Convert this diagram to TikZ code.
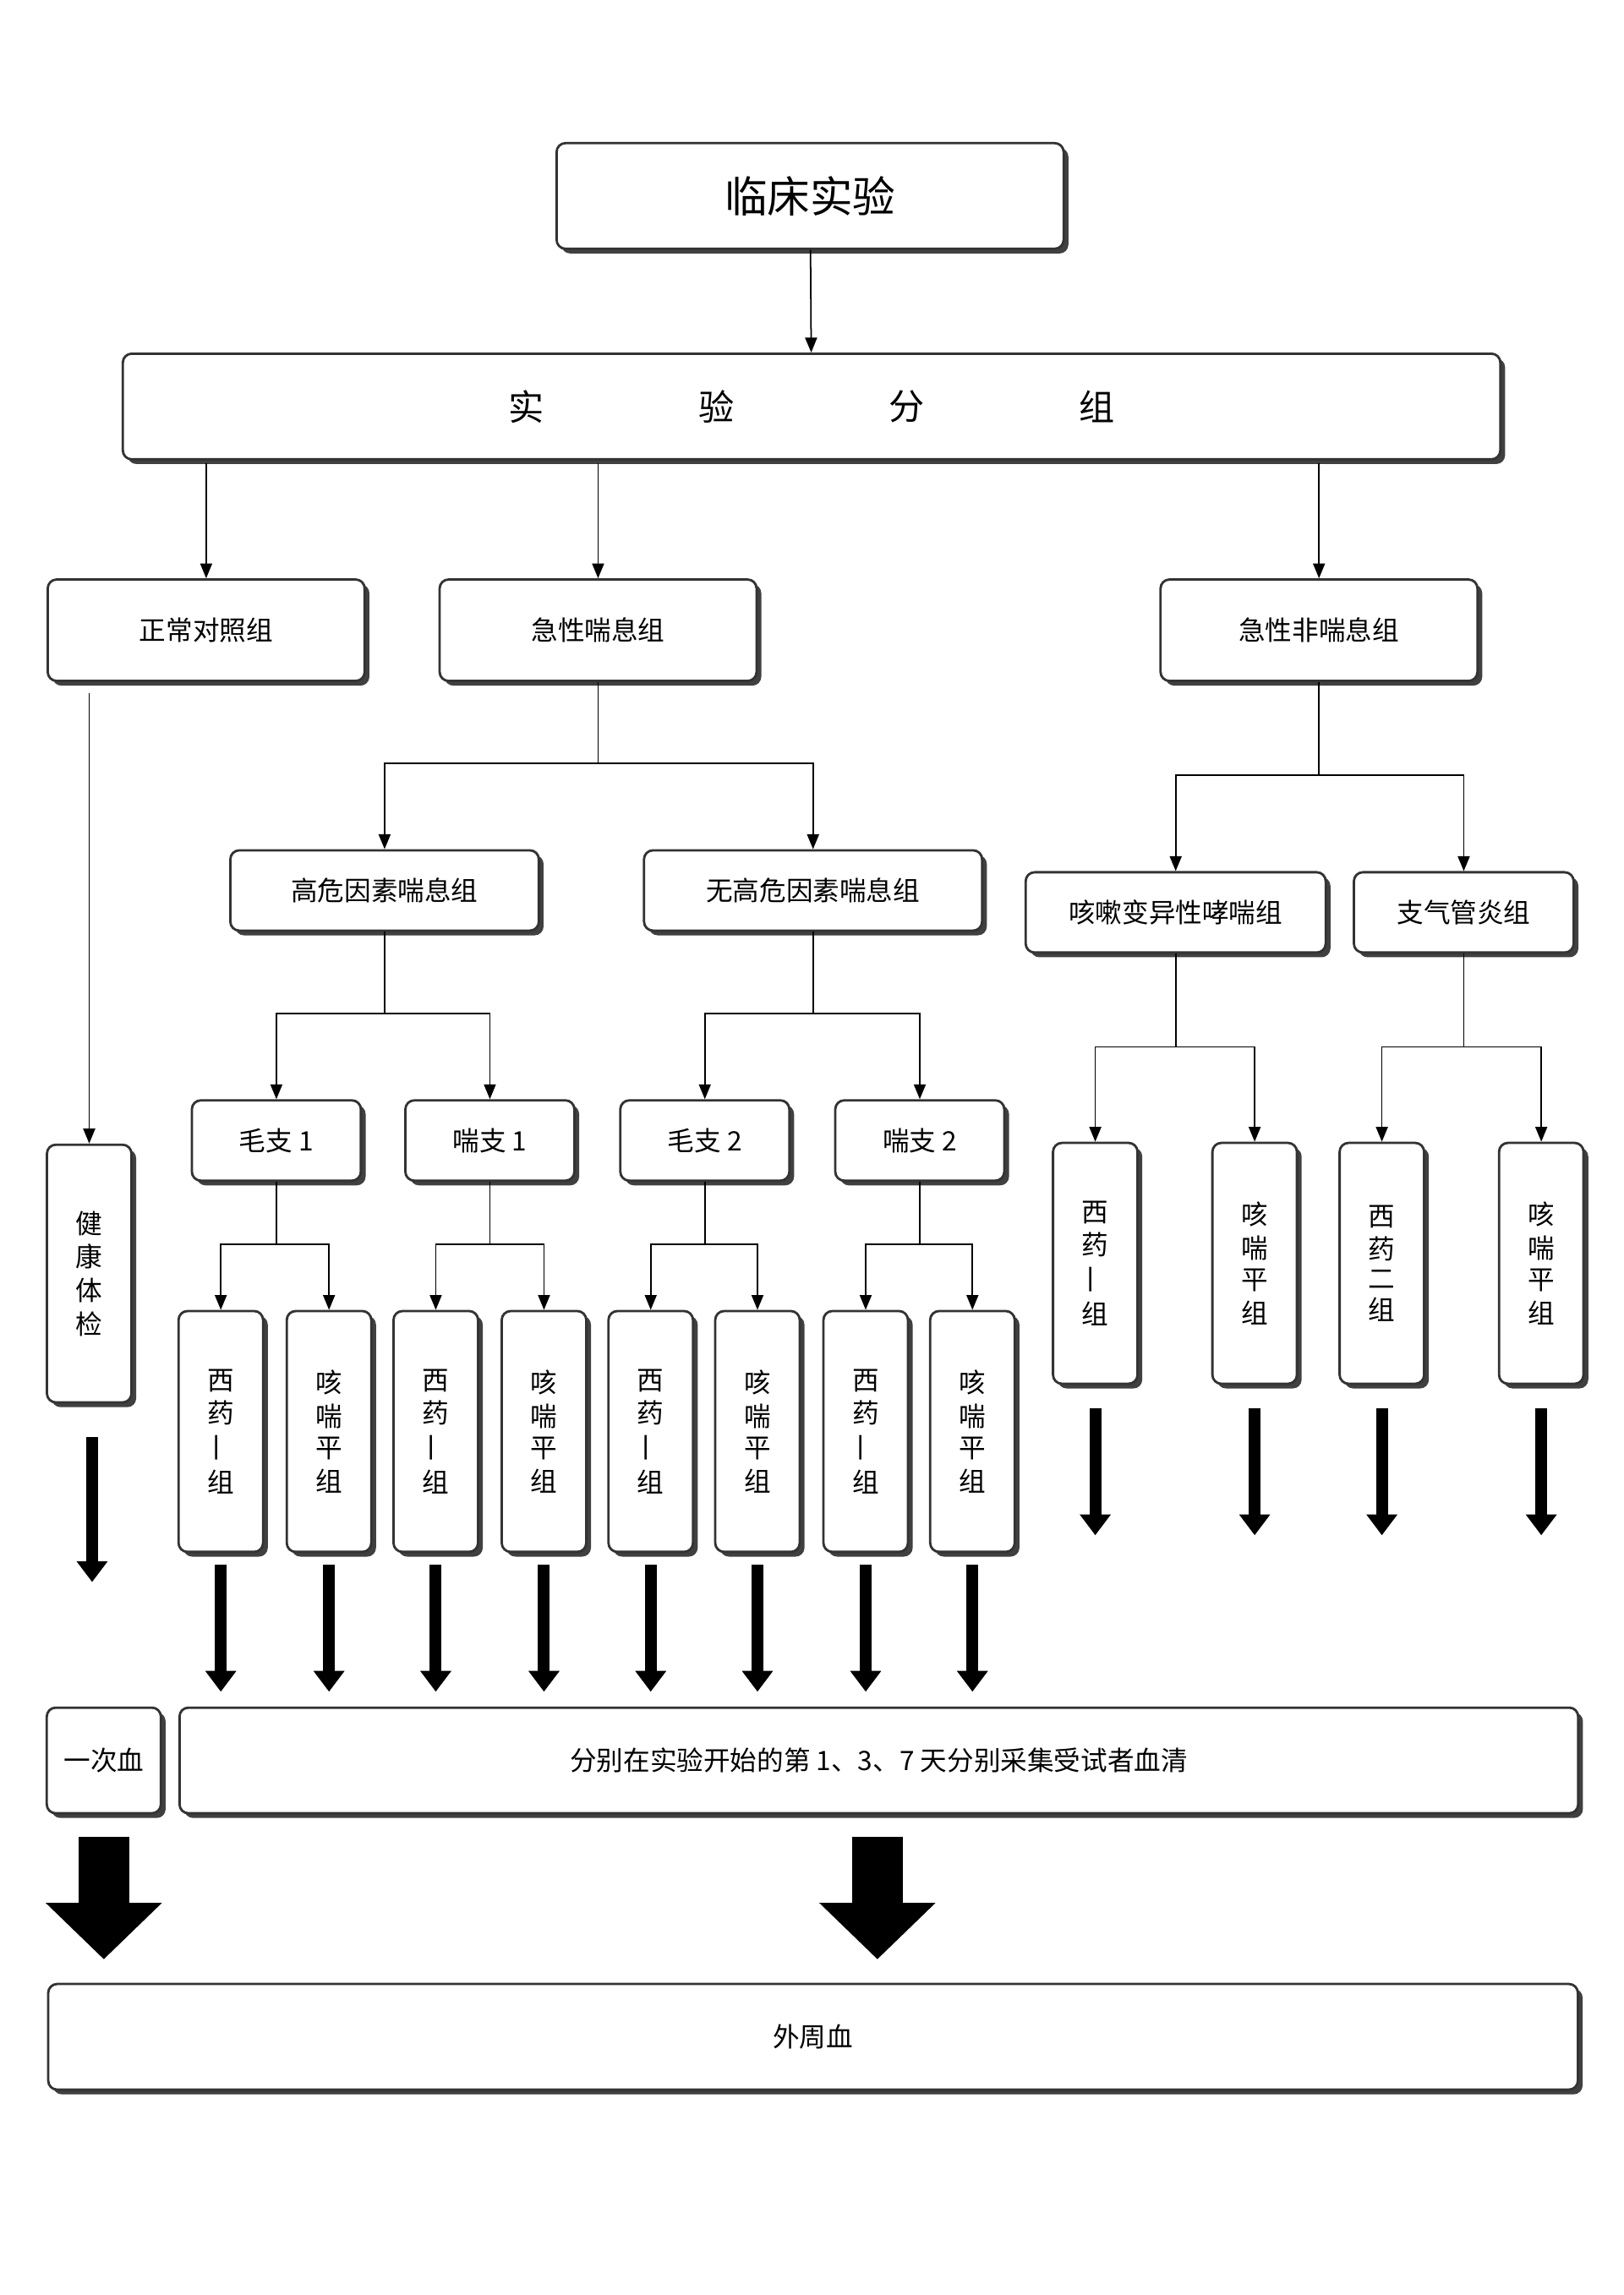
\documentclass[tikz,border=0pt]{standalone}
\usepackage{fontspec}
\setmainfont{Noto Sans CJK SC}
\usetikzlibrary{arrows.meta,shadows}
\newcommand{\vtext}[4]{\shortstack{#1\\#2\\#3\\#4}}
\newcommand{\yi}{\rotatebox{90}{一}}
\begin{document}
\begin{tikzpicture}[x=0.017297cm, y=-0.017297cm,
box/.style = {rectangle, draw=black!80, line width=0.8pt, rounded corners=3pt, fill=white, align=center, font=\small,
  drop shadow={shadow xshift=1.6pt, shadow yshift=-1.6pt, fill=black!75, opacity=1}},
line/.style = {line width=0.5pt},
arr/.style = {-{Triangle[length=5pt,width=4pt]}, line width=0.5pt},
fat/.style = {-{Triangle[length=7pt,width=10pt]}, line width=4pt},
huge/.style = {-{Triangle[length=19pt,width=38pt]}, line width=17pt}]
\useasboundingbox (0,0) rectangle (1110,1569.6);
% top
\node[box, minimum width=6cm, minimum height=1.25cm, font=\Large] at (554,134) (clin) {临床实验};
\node[box, minimum width=16.3cm, minimum height=1.25cm, font=\large] at (555,278) (grp) {};
\foreach \c/\x in {实/360, 验/490, 分/620, 组/750}
  \node[font=\large] at (\x,278) {\c};
\draw[arr] (clin) -- (grp);
% second row
\node[box, minimum width=3.75cm, minimum height=1.2cm] at (141,431) (norm) {正常对照组};
\node[box, minimum width=3.75cm, minimum height=1.2cm] at (409,431) (asth) {急性喘息组};
\node[box, minimum width=3.75cm, minimum height=1.2cm] at (902,431) (nonasth) {急性非喘息组};
\foreach \n/\x in {norm/141, asth/409, nonasth/902}
  \draw[arr] (\x,317) -- (\n.north);
% third row
\node[box, minimum width=3.65cm, minimum height=0.95cm] at (263,609) (high) {高危因素喘息组};
\node[box, minimum width=4cm, minimum height=0.95cm] at (556,609) (nohigh) {无高危因素喘息组};
\node[box, minimum width=3.55cm, minimum height=0.95cm] at (804,624) (cough) {咳嗽变异性哮喘组};
\node[box, minimum width=2.6cm, minimum height=0.95cm] at (1001,624) (bron) {支气管炎组};
\draw[line] (asth.south) -- (409,522) coordinate (j1);
\draw[arr] (j1) -| (high.north);
\draw[arr] (j1) -| (nohigh.north);
\draw[line] (nonasth.south) -- (902,530) coordinate (j2);
\draw[arr] (j2) -| (cough.north);
\draw[arr] (j2) -| (bron.north);
% fourth row
\node[box, minimum width=2cm, minimum height=0.95cm] at (189,780) (mz1) {毛支 1};
\node[box, minimum width=2cm, minimum height=0.95cm] at (335,780) (cz1) {喘支 1};
\node[box, minimum width=2cm, minimum height=0.95cm] at (482,780) (mz2) {毛支 2};
\node[box, minimum width=2cm, minimum height=0.95cm] at (629,780) (cz2) {喘支 2};
\draw[line] (high.south) -- (263,693) coordinate (j3);
\draw[arr] (j3) -| (mz1.north);
\draw[arr] (j3) -| (cz1.north);
\draw[line] (nohigh.south) -- (556,693) coordinate (j4);
\draw[arr] (j4) -| (mz2.north);
\draw[arr] (j4) -| (cz2.north);
% vertical boxes
\foreach \i/\x/\p in {1/151/mz1, 2/225/mz1, 3/298/cz1, 4/372/cz1, 5/445/mz2, 6/518/mz2, 7/592/cz2, 8/665/cz2} {
  \ifodd\i
    \node[box, minimum width=1cm, minimum height=2.85cm] at (\x,979) (v\i) {\vtext{西}{药}{\yi}{组}};
  \else
    \node[box, minimum width=1cm, minimum height=2.85cm] at (\x,979) (v\i) {\vtext{咳}{喘}{平}{组}};
  \fi
  \draw[line] (\p.south) -- (\p.south |- 0,851) coordinate (k\i);
  \draw[arr] (k\i) -| (v\i.north);
  \draw[fat] (\x,1070) -- (\x,1157);
}
\node[box, minimum width=1cm, minimum height=2.85cm] at (749,864) (r1) {\vtext{西}{药}{\yi}{组}};
\node[box, minimum width=1cm, minimum height=2.85cm] at (858,864) (r2) {\vtext{咳}{喘}{平}{组}};
\node[box, minimum width=1cm, minimum height=2.85cm] at (945,864) (r3) {\vtext{西}{药}{二}{组}};
\node[box, minimum width=1cm, minimum height=2.85cm] at (1054,864) (r4) {\vtext{咳}{喘}{平}{组}};
\draw[line] (cough.south) -- (804,716) coordinate (j5);
\draw[arr] (j5) -| (r1.north);
\draw[arr] (j5) -| (r2.north);
\draw[line] (bron.south) -- (1001,716) coordinate (j6);
\draw[arr] (j6) -| (r3.north);
\draw[arr] (j6) -| (r4.north);
\foreach \x in {749, 858, 945, 1054}
  \draw[fat] (\x,963) -- (\x,1050);
% control
\node[box, minimum width=1cm, minimum height=3.05cm] at (61,871) (health) {\vtext{健}{康}{体}{检}};
\draw[arr] (61,474) -- (health.north);
\draw[fat] (63,983) -- (63,1082);
% bottom
\node[box, minimum width=1.35cm, minimum height=1.25cm] at (71,1204) (once) {一次血};
\node[box, minimum width=16.55cm, minimum height=1.25cm] at (601,1204) (serum) {分别在实验开始的第 1、3、7 天分别采集受试者血清};
\node[box, minimum width=18.1cm, minimum height=1.25cm] at (556,1393) (blood) {外周血};
\draw[huge] (71,1256) -- (71,1340);
\draw[huge] (600,1256) -- (600,1340);
\end{tikzpicture}
\end{document}
